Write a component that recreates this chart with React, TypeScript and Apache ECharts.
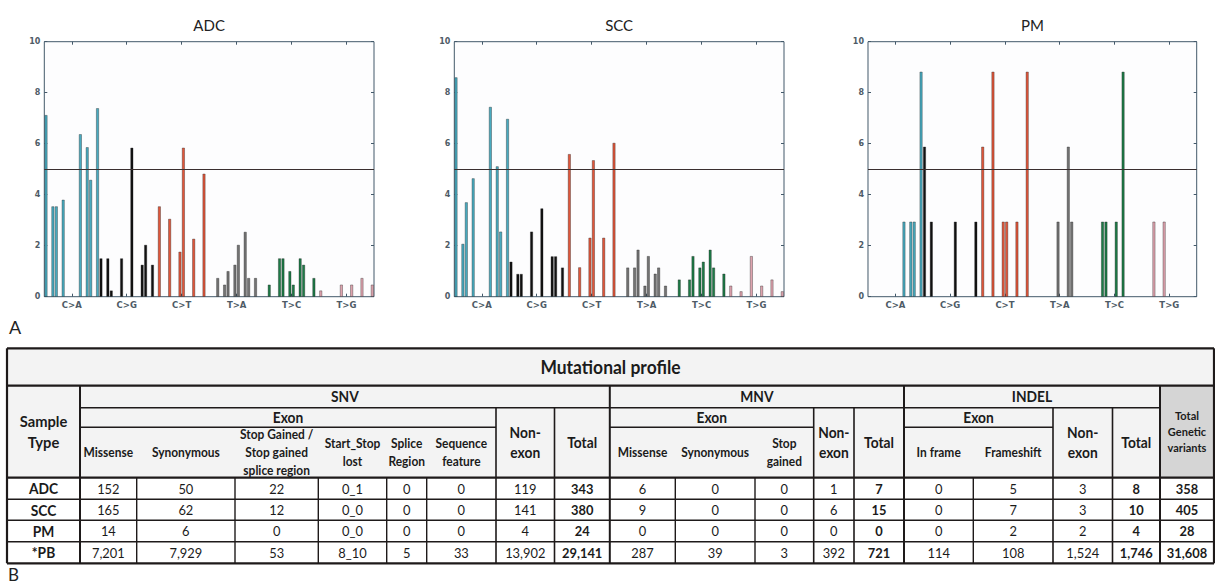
import React, { useEffect, useRef } from 'react';
import * as echarts from 'echarts';

// ---------- Panel A: 96-context mutational spectra ----------
const MUTATION_CLASSES = ['C>A', 'C>G', 'C>T', 'T>A', 'T>C', 'T>G'];
const CLASS_COLORS = ['#48aabf', '#111111', '#e0563a', '#737373', '#1d7b47', '#dea3ae'];
const CONTEXTS_PER_CLASS = 16;
const BAR_SLOTS = [0, 2, 3, 5, 10, 12, 13, 15, 16, 18, 19, 22, 25, 28, 29, 31, 33, 36, 39, 40, 43, 46,
  50, 52, 53, 55, 56, 58, 59, 61, 65, 68, 69, 71, 72, 74, 75, 78, 80, 83, 86, 89, 92, 95];
const ADC_VALUES = [7.12, 3.54, 3.54, 3.80, 6.37, 5.86, 4.58, 7.39,
  1.50, 1.50, 0.24, 1.50, 5.84, 1.25, 2.03, 1.25,
  3.54, 3.05, 1.76, 5.84, 2.27, 4.82,
  0.73, 0.47, 1.00, 1.25, 2.03, 2.54, 0.73, 0.73,
  0.47, 1.50, 1.50, 1.00, 0.47, 1.50, 1.25, 0.73,
  0.24, 0, 0.47, 0.47, 0.73, 0.47];
const SCC_VALUES = [8.60, 2.07, 3.70, 4.64, 7.44, 5.11, 2.55, 6.97,
  1.37, 0.89, 0.89, 2.55, 3.46, 1.58, 1.58, 1.14,
  5.59, 1.15, 2.31, 5.35, 2.31, 6.03,
  1.14, 1.14, 1.84, 0.43, 1.59, 0.90, 1.14, 0.43,
  0.67, 0.67, 1.59, 1.14, 1.37, 1.84, 1.14, 0.90,
  0.43, 0.21, 1.59, 0.43, 0.67, 0.21];
const PM_VALUES = [0, 0, 0, 0, 2.94, 2.94, 2.94, 8.82,
  5.88, 2.94, 0, 0, 2.94, 0, 0, 2.94,
  5.88, 8.82, 2.94, 2.94, 2.94, 8.82,
  0, 0, 0, 2.94, 0, 5.88, 2.94, 0,
  0, 2.94, 2.94, 0, 2.94, 8.82, 0, 0,
  0, 2.94, 2.94, 0, 0, 0];
const THRESHOLD = 5;
const Y_MIN = 0;
const Y_MAX = 10;
const Y_INTERVAL = 2;

// ---------- Panel B: mutational profile table ----------
const SAMPLE_TYPES = ['ADC', 'SCC', 'PM', '*PB'];
const SNV_MISSENSE = ['152', '165', '14', '7,201'];
const SNV_SYNONYMOUS = ['50', '62', '6', '7,929'];
const SNV_STOP_GAINED = ['22', '12', '0', '53'];
const SNV_START_STOP_LOST = ['0_1', '0_0', '0_0', '8_10'];
const SNV_SPLICE_REGION = ['0', '0', '0', '5'];
const SNV_SEQUENCE_FEATURE = ['0', '0', '0', '33'];
const SNV_NON_EXON = ['119', '141', '4', '13,902'];
const SNV_TOTAL = ['343', '380', '24', '29,141'];
const MNV_MISSENSE = ['6', '9', '0', '287'];
const MNV_SYNONYMOUS = ['0', '0', '0', '39'];
const MNV_STOP_GAINED = ['0', '0', '0', '3'];
const MNV_NON_EXON = ['1', '6', '0', '392'];
const MNV_TOTAL = ['7', '15', '0', '721'];
const INDEL_IN_FRAME = ['0', '0', '0', '114'];
const INDEL_FRAMESHIFT = ['5', '7', '2', '108'];
const INDEL_NON_EXON = ['3', '3', '2', '1,524'];
const INDEL_TOTAL = ['8', '10', '4', '1,746'];
const TOTAL_GENETIC_VARIANTS = ['358', '405', '28', '31,608'];

const AXIS_COLOR = '#43596a';
const TICK_LABEL_COLOR = '#4e5b66';
const TABLE_FONT = 'Lato, "Liberation Sans", sans-serif';
const LINE_COLOR = '#1e1a1a';
const TEXT_SCALE = 0.92;

function spectrum(values: number[]) {
  const arr: any[] = new Array(MUTATION_CLASSES.length * CONTEXTS_PER_CLASS).fill('-');
  BAR_SLOTS.forEach((slot, i) => {
    const v = values[i];
    if (v > 0) {
      arr[slot] = { value: v, itemStyle: { color: CLASS_COLORS[Math.floor(slot / CONTEXTS_PER_CLASS)] } };
    }
  });
  return arr;
}

const PANELS = [
  { name: 'ADC', values: ADC_VALUES, left: 44.3, width: 329.7 },
  { name: 'SCC', values: SCC_VALUES, left: 454.3, width: 329.7 },
  { name: 'PM', values: PM_VALUES, left: 868, width: 328.7 },
];

function buildTable() {
  const X = [7, 80, 136.7, 235, 318.3, 386.7, 426.7, 496, 554.5, 609.8, 675.3, 755, 813.7, 854, 904, 973.3, 1053, 1112.5, 1160, 1214];
  const Y = [348.3, 385.7, 407.7, 427.3, 477.7, 499.3, 520.3, 541.7, 563.3];
  const els: any[] = [];
  const cx = (c: number) => (X[c] + X[c + 1]) / 2;
  const rect = (x1: number, y1: number, x2: number, y2: number, fill: string) =>
    els.push({ type: 'rect', silent: true, z: 1, shape: { x: x1, y: y1, width: x2 - x1, height: y2 - y1 }, style: { fill } });
  const line = (x1: number, y1: number, x2: number, y2: number, w: number) =>
    els.push({ type: 'line', silent: true, z: 5, shape: { x1, y1, x2, y2 }, style: { stroke: LINE_COLOR, lineWidth: w } });
  const text = (t: string, x: number, y: number, size: number, bold: boolean, lineHeight?: number) =>
    els.push({
      type: 'text', silent: true, z: 10, x, y, scaleX: TEXT_SCALE,
      style: {
        text: t, align: 'center', verticalAlign: 'middle', textAlign: 'center', textVerticalAlign: 'middle',
        fontSize: size, fontWeight: bold ? 'bold' : 'normal', fontFamily: TABLE_FONT, fill: '#1b1b1b',
        lineHeight: lineHeight || Math.round(size * 1.25),
      },
    });

  // backgrounds
  rect(X[0], Y[0], X[19], Y[4], '#f3f3f3');
  rect(X[18], Y[1], X[19], Y[4], '#d5d5d5');
  rect(X[0], Y[4], X[19], Y[8], '#ffffff');

  // horizontal lines
  line(X[0], Y[0], X[19], Y[0], 2.2);
  line(X[0], Y[1], X[19], Y[1], 2.2);
  line(X[1], Y[2], X[18], Y[2], 1.4);
  line(X[1], Y[3], X[7], Y[3], 1.4);
  line(X[9], Y[3], X[12], Y[3], 1.4);
  line(X[14], Y[3], X[16], Y[3], 1.4);
  line(X[0], Y[4], X[19], Y[4], 2.2);
  for (let r = 5; r < 8; r++) line(X[0], Y[r], X[19], Y[r], 1.4);
  line(X[0], Y[8], X[19], Y[8], 2.2);

  // vertical lines
  [0, 19].forEach((c) => line(X[c], Y[0], X[c], Y[8], 2.2));
  [1, 9, 14, 18].forEach((c) => line(X[c], Y[1], X[c], Y[8], 2));
  [7, 8, 12, 13, 16, 17].forEach((c) => line(X[c], Y[2], X[c], Y[8], 1.6));
  [2, 3, 4, 5, 6, 10, 11, 15].forEach((c) => line(X[c], Y[4], X[c], Y[8], 1.4));

  // header texts
  const midTitle = (Y[0] + Y[1]) / 2;
  const midGroup = (Y[1] + Y[2]) / 2;
  const midExon = (Y[2] + Y[3]) / 2;
  const midSub = (Y[3] + Y[4]) / 2;
  const midLower = (Y[2] + Y[4]) / 2;
  const midHeader = (Y[1] + Y[4]) / 2;
  text('Mutational profile', (X[0] + X[19]) / 2, midTitle, 19, true);
  text('Sample\nType', cx(0), midHeader, 16, true, 21);
  text('SNV', (X[1] + X[9]) / 2, midGroup, 15, true);
  text('MNV', (X[9] + X[14]) / 2, midGroup, 15, true);
  text('INDEL', (X[14] + X[18]) / 2, midGroup, 15, true);
  text('Exon', (X[1] + X[7]) / 2, midExon, 15, true);
  text('Exon', (X[9] + X[12]) / 2, midExon, 15, true);
  text('Exon', (X[14] + X[16]) / 2, midExon, 15, true);
  text('Missense', cx(1), midSub, 13, true);
  text('Synonymous', cx(2), midSub, 13, true);
  text('Stop Gained /\nStop gained\nsplice region', cx(3), midSub, 13, true, 18);
  text('Start_Stop\nlost', cx(4), midSub, 13, true, 18);
  text('Splice\nRegion', cx(5), midSub, 13, true, 18);
  text('Sequence\nfeature', cx(6), midSub, 13, true, 18);
  text('Non-\nexon', cx(7), midLower, 15, true, 20);
  text('Total', cx(8), midLower, 15, true);
  text('Missense', cx(9), midSub, 13, true);
  text('Synonymous', cx(10), midSub, 13, true);
  text('Stop\ngained', cx(11), midSub, 13, true, 18);
  text('Non-\nexon', cx(12), midLower, 15, true, 20);
  text('Total', cx(13), midLower, 15, true);
  text('In frame', cx(14), midSub, 13, true);
  text('Frameshift', cx(15), midSub, 13, true);
  text('Non-\nexon', cx(16), midLower, 15, true, 20);
  text('Total', cx(17), midLower, 15, true);
  text('Total\nGenetic\nvariants', cx(18), midHeader, 12, true, 16);

  // data rows
  const columns: { values: string[]; bold: boolean }[] = [
    { values: SAMPLE_TYPES, bold: true },
    { values: SNV_MISSENSE, bold: false },
    { values: SNV_SYNONYMOUS, bold: false },
    { values: SNV_STOP_GAINED, bold: false },
    { values: SNV_START_STOP_LOST, bold: false },
    { values: SNV_SPLICE_REGION, bold: false },
    { values: SNV_SEQUENCE_FEATURE, bold: false },
    { values: SNV_NON_EXON, bold: false },
    { values: SNV_TOTAL, bold: true },
    { values: MNV_MISSENSE, bold: false },
    { values: MNV_SYNONYMOUS, bold: false },
    { values: MNV_STOP_GAINED, bold: false },
    { values: MNV_NON_EXON, bold: false },
    { values: MNV_TOTAL, bold: true },
    { values: INDEL_IN_FRAME, bold: false },
    { values: INDEL_FRAMESHIFT, bold: false },
    { values: INDEL_NON_EXON, bold: false },
    { values: INDEL_TOTAL, bold: true },
    { values: TOTAL_GENETIC_VARIANTS, bold: true },
  ];
  columns.forEach((col, c) => {
    col.values.forEach((v, r) => {
      const y = (Y[4 + r] + Y[5 + r]) / 2;
      text(v, cx(c), y, c === 0 ? 15 : 14, col.bold);
    });
  });
  return els;
}

export default function App() {
  const ref = useRef<HTMLDivElement>(null);
  useEffect(() => {
    document.body.style.margin = '0';
    if (!ref.current) return;
    const chart = echarts.init(ref.current, undefined, { renderer: 'svg' });
    const slotNames = Array.from({ length: MUTATION_CLASSES.length * CONTEXTS_PER_CLASS }, (_, i) => String(i));

    const grids: any[] = [];
    const xAxes: any[] = [];
    const yAxes: any[] = [];
    const series: any[] = [];
    const graphics: any[] = [];

    PANELS.forEach((p, i) => {
      grids.push({
        left: p.left, top: 41.7, width: p.width, height: 255,
        show: true, borderColor: AXIS_COLOR, borderWidth: 1, backgroundColor: '#fdfdfe',
      });
      xAxes.push({
        type: 'category', gridIndex: i, data: slotNames, boundaryGap: true,
        axisLine: { show: false }, axisTick: { show: false }, axisLabel: { show: false }, splitLine: { show: false },
      });
      xAxes.push({
        type: 'category', gridIndex: i, data: MUTATION_CLASSES, position: 'bottom',
        axisLine: { show: false },
        axisTick: { show: true, inside: true, length: 3, alignWithLabel: true, lineStyle: { color: AXIS_COLOR } },
        axisLabel: { fontSize: 8.5, fontWeight: 'bold', color: TICK_LABEL_COLOR, margin: 4, fontFamily: 'DejaVu Sans' },
      });
      xAxes.push({
        type: 'category', gridIndex: i, data: MUTATION_CLASSES, position: 'top',
        axisLine: { show: false },
        axisTick: { show: true, inside: true, length: 3, alignWithLabel: true, lineStyle: { color: AXIS_COLOR } },
        axisLabel: { show: false },
      });
      yAxes.push({
        type: 'value', gridIndex: i, min: Y_MIN, max: Y_MAX, interval: Y_INTERVAL, position: 'left',
        axisLine: { show: false }, splitLine: { show: false },
        axisTick: { show: true, inside: true, length: 3, lineStyle: { color: AXIS_COLOR } },
        axisLabel: { fontSize: 8, fontWeight: 'bold', color: TICK_LABEL_COLOR, margin: 4, fontFamily: 'DejaVu Sans' },
      });
      yAxes.push({
        type: 'value', gridIndex: i, min: Y_MIN, max: Y_MAX, interval: Y_INTERVAL, position: 'right',
        axisLine: { show: false }, splitLine: { show: false },
        axisTick: { show: true, inside: true, length: 3, lineStyle: { color: AXIS_COLOR } },
        axisLabel: { show: false },
      });
      series.push({
        type: 'bar', name: p.name, xAxisIndex: i * 3, yAxisIndex: i * 2,
        data: spectrum(p.values), barWidth: 2.8,
        itemStyle: { borderColor: 'rgba(30,30,30,0.7)', borderWidth: 0.5 },
        markLine: {
          silent: true, symbol: ['none', 'none'], label: { show: false },
          lineStyle: { color: '#3a2f2f', width: 1, type: 'solid' },
          data: [{ yAxis: THRESHOLD }],
        },
      });
      graphics.push({
        type: 'text', silent: true, x: p.left + p.width / 2, y: 25,
        style: {
          text: p.name, align: 'center', verticalAlign: 'middle', textAlign: 'center', textVerticalAlign: 'middle',
          fontSize: 15, fontFamily: 'Lato, "Open Sans", sans-serif', fill: '#222',
        },
      });
    });

    graphics.push({
      type: 'text', silent: true, x: 9, y: 327,
      style: { text: 'A', align: 'left', verticalAlign: 'middle', textAlign: 'left', textVerticalAlign: 'middle', fontSize: 18, fontFamily: 'Lato, sans-serif', fill: '#222' },
    });
    graphics.push({
      type: 'text', silent: true, x: 8, y: 574,
      style: { text: 'B', align: 'left', verticalAlign: 'middle', textAlign: 'left', textVerticalAlign: 'middle', fontSize: 17, fontFamily: 'Lato, sans-serif', fill: '#222' },
    });
    graphics.push(...buildTable());

    chart.setOption({
      animation: false,
      backgroundColor: '#ffffff',
      grid: grids,
      xAxis: xAxes,
      yAxis: yAxes,
      series,
      graphic: graphics,
    });
    return () => chart.dispose();
  }, []);
  return <div ref={ref} style={{ width: 1215, height: 585 }} />;
}
